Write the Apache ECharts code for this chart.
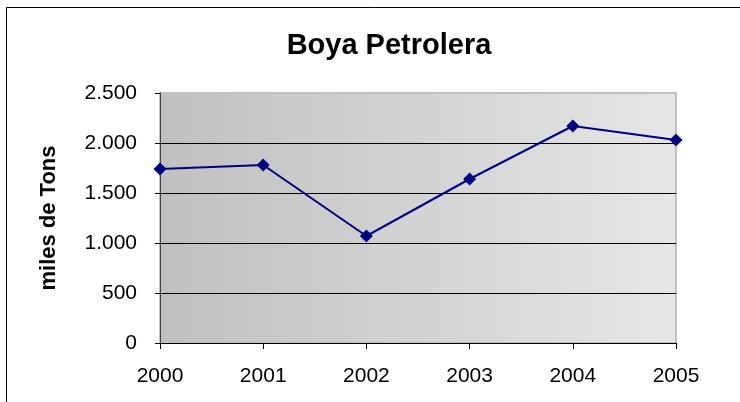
<!DOCTYPE html>
<html>
<head>
<meta charset="utf-8">
<script src="https://cdn.jsdelivr.net/npm/echarts@6/dist/echarts.min.js"></script>
<style>
  html, body { margin: 0; padding: 0; background: #fff; }
  #chart { width: 740px; height: 402px; }
</style>
</head>
<body>
<div id="chart"></div>
<script>
// años y toneladas (miles)
const years = ['2000', '2001', '2002', '2003', '2004', '2005']
const tons = [1740, 1780, 1070, 1640, 2170, 2030]
const yTicks = [0, 500, 1000, 1500, 2000, 2500]

const chart = echarts.init(document.getElementById('chart'))

function fmt(v) {
  // separador de miles con punto
  return String(v).replace(/\B(?=(\d{3})+(?!\d))/g, '.')
}

chart.setOption({
  animation: false,
  textStyle: { fontFamily: 'Liberation Sans, Arial, sans-serif' },
  title: {
    text: 'Boya Petrolera',
    left: 384,
    textAlign: 'center',
    top: 26,
    textStyle: { fontSize: 29, fontWeight: 'bold', color: '#000' }
  },
  graphic: [{
    type: 'rect',
    shape: { x: 6.5, y: 7.5, width: 760, height: 420 },
    style: { fill: null, stroke: '#000', lineWidth: 1 },
    silent: true
  }],
  grid: {
    left: 160, right: 64, top: 93, bottom: 59,
    show: true,
    borderColor: '#c0c0c0',
    borderWidth: 2,
    backgroundColor: new echarts.graphic.LinearGradient(0, 0, 1, 0, [
      { offset: 0, color: '#c0c0c0' },
      { offset: 1, color: '#e6e6e6' }
    ])
  },
  xAxis: {
    type: 'category',
    data: years,
    boundaryGap: false,
    axisLine: { lineStyle: { color: '#000', width: 1 } },
    axisTick: { show: true, length: 6, inside: false, lineStyle: { color: '#000' } },
    axisLabel: { color: '#000', fontSize: 21, margin: 23 },
    splitLine: { show: false }
  },
  yAxis: {
    type: 'value',
    min: yTicks[0],
    max: yTicks[yTicks.length - 1],
    interval: 500,
    name: 'miles de Tons',
    nameLocation: 'middle',
    nameGap: 100,
    nameRotate: 90,
    nameTextStyle: { color: '#000', fontSize: 22, fontWeight: 'bold' },
    axisLine: { show: true, lineStyle: { color: '#404040', width: 1 } },
    axisTick: { show: true, length: 5, inside: false, lineStyle: { color: '#000' } },
    axisLabel: { color: '#000', fontSize: 21, margin: 23, formatter: fmt },
    splitLine: { show: true, showMaxLine: false, lineStyle: { color: '#000', width: 1 } }
  },
  series: [{
    type: 'line',
    data: tons,
    symbol: 'diamond',
    symbolSize: 13,
    lineStyle: { color: '#000080', width: 2 },
    itemStyle: { color: '#000080' }
  }]
})
</script>
</body>
</html>
